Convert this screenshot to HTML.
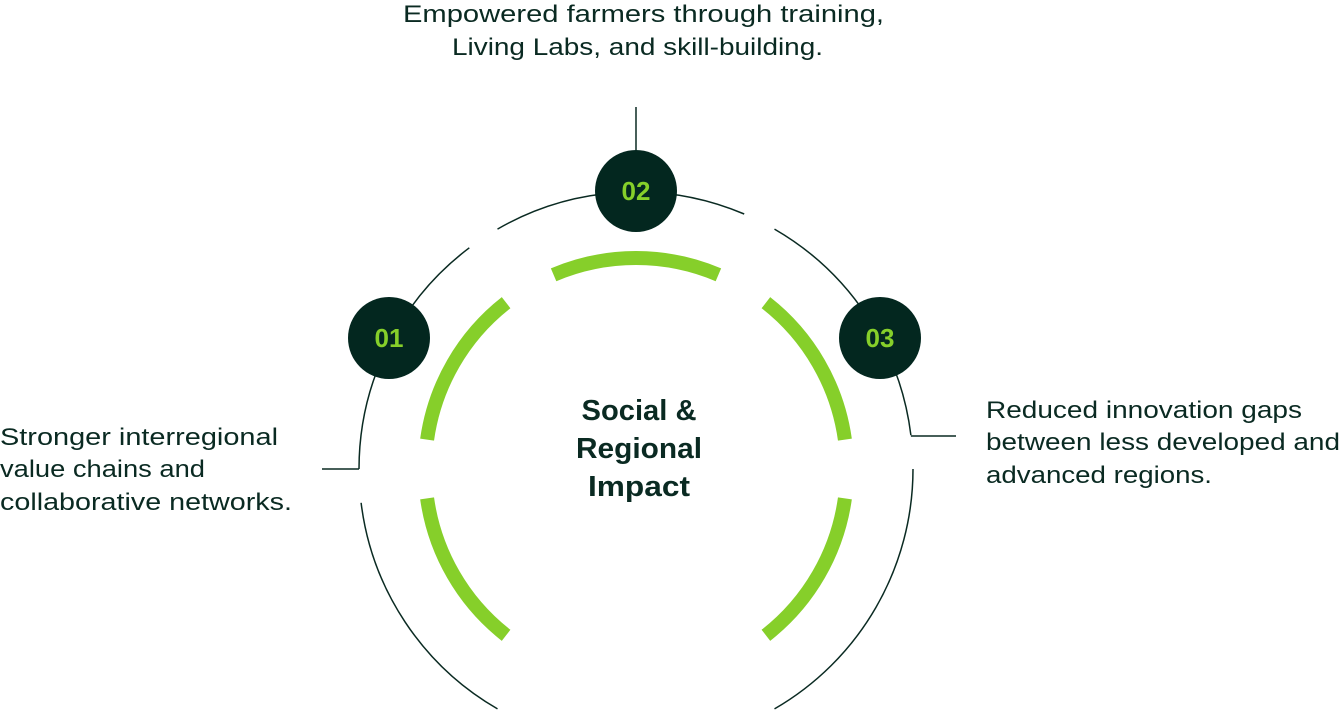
<!DOCTYPE html>
<html><head><meta charset="utf-8"><style>html,body{margin:0;padding:0;background:#fff;}svg{display:block}</style></head>
<body>
<svg width="1341" height="712" viewBox="0 0 1341 712" xmlns="http://www.w3.org/2000/svg" font-family="Liberation Sans, sans-serif">
<g fill="none" stroke="#0a2a22" stroke-width="1.5">
<path d="M744.2,214 A277,277 0 0 0 497.5,229.1"/>
<path d="M469.3,247.8 A277,277 0 0 0 359,469"/>
<path d="M361.1,502.8 A277,277 0 0 0 497.5,708.9"/>
<path d="M774.5,708.9 A277,277 0 0 0 913,469"/>
<path d="M910.9,435.2 A277,277 0 0 0 774.5,229.1"/>
<line x1="636" y1="107" x2="636" y2="155"/>
<polyline points="322,469 359,469"/>
<polyline points="910.9,436 956,436"/>
</g>
<g fill="none" stroke="#86cf2a" stroke-width="14">
<path d="M718.4,274.8 A211,211 0 0 0 553.6,274.8"/>
<path d="M506.1,302.7 A211,211 0 0 0 427.1,439.6"/>
<path d="M427.1,498.4 A211,211 0 0 0 506.1,635.3"/>
<path d="M765.9,635.3 A211,211 0 0 0 844.9,498.4"/>
<path d="M844.9,439.6 A211,211 0 0 0 765.9,302.7"/>
</g>
<g fill="#03271f">
<circle cx="636" cy="191" r="41"/>
<circle cx="389" cy="338" r="41"/>
<circle cx="880" cy="338" r="41"/>
</g>
<g fill="#86cf2a" font-weight="bold" font-size="26" text-anchor="middle">
<text x="636" y="200">02</text>
<text x="389" y="347">01</text>
<text x="880" y="347">03</text>
</g>
<g fill="#0a2a22" font-weight="bold" font-size="29" text-anchor="middle">
<text x="639" y="420" textLength="115" lengthAdjust="spacingAndGlyphs">Social &amp;</text>
<text x="639" y="458" textLength="126" lengthAdjust="spacingAndGlyphs">Regional</text>
<text x="639" y="496" textLength="102" lengthAdjust="spacingAndGlyphs">Impact</text>
</g>
<g fill="#0a2a22" font-size="24">
<text x="403" y="22" textLength="481" lengthAdjust="spacingAndGlyphs">Empowered farmers through training,</text>
<text x="452" y="55" textLength="371" lengthAdjust="spacingAndGlyphs">Living Labs, and skill-building.</text>
<text x="0" y="445" textLength="278" lengthAdjust="spacingAndGlyphs">Stronger interregional</text>
<text x="0" y="477" textLength="205" lengthAdjust="spacingAndGlyphs">value chains and</text>
<text x="0" y="510" textLength="292" lengthAdjust="spacingAndGlyphs">collaborative networks.</text>
<text x="986" y="418" textLength="316" lengthAdjust="spacingAndGlyphs">Reduced innovation gaps</text>
<text x="986" y="450" textLength="354" lengthAdjust="spacingAndGlyphs">between less developed and</text>
<text x="986" y="483" textLength="226" lengthAdjust="spacingAndGlyphs">advanced regions.</text>
</g>
</svg>
</body></html>
